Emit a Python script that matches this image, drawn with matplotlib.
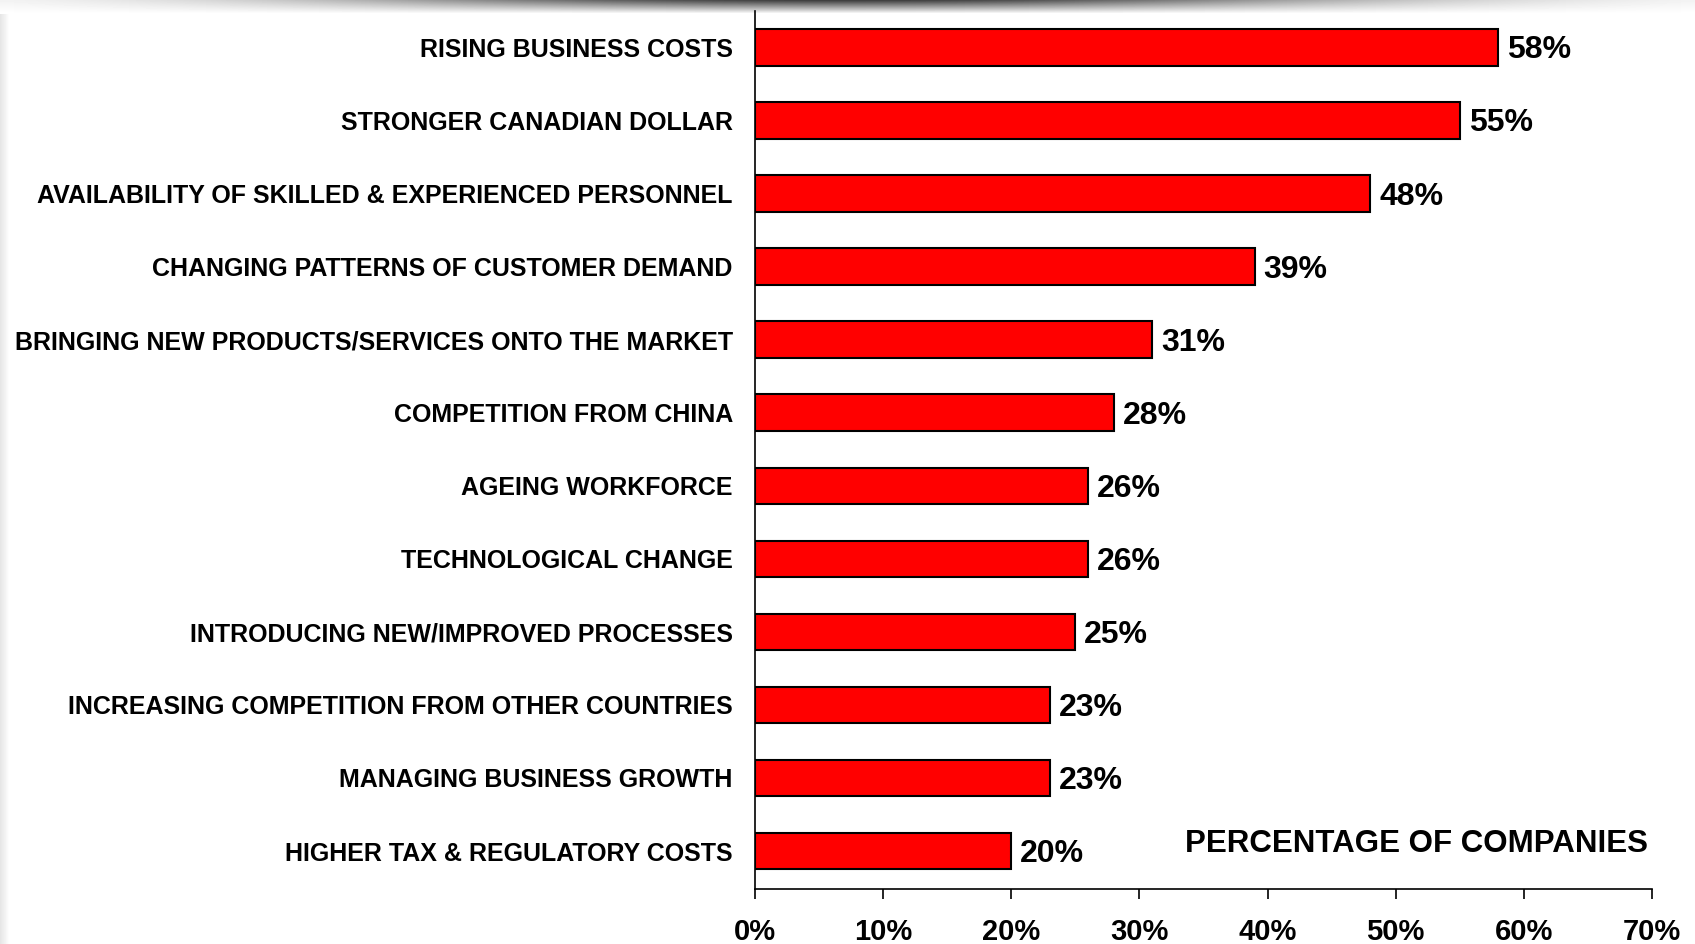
import numpy as np
import matplotlib.pyplot as plt

plt.rcParams['font.family'] = ['Liberation Sans', 'DejaVu Sans']

categories = [
    "RISING BUSINESS COSTS",
    "STRONGER CANADIAN DOLLAR",
    "AVAILABILITY OF SKILLED & EXPERIENCED PERSONNEL",
    "CHANGING PATTERNS OF CUSTOMER DEMAND",
    "BRINGING NEW PRODUCTS/SERVICES ONTO THE MARKET",
    "COMPETITION FROM CHINA",
    "AGEING WORKFORCE",
    "TECHNOLOGICAL CHANGE",
    "INTRODUCING NEW/IMPROVED PROCESSES",
    "INCREASING COMPETITION FROM OTHER COUNTRIES",
    "MANAGING BUSINESS GROWTH",
    "HIGHER TAX & REGULATORY COSTS",
]
values = [58, 55, 48, 39, 31, 28, 26, 26, 25, 23, 23, 20]
x_ticks = [0, 10, 20, 30, 40, 50, 60, 70]
x_tick_labels = [f"{t}%" for t in x_ticks]

W, H = 1695, 944
fig = plt.figure(figsize=(W / 100, H / 100), dpi=100)
fig.patch.set_facecolor("white")

# top shadow band and left edge strip
bg = fig.add_axes([0, 0, 1, 1], zorder=-10)
bg.set_axis_off()
xx = np.linspace(-1, 1, 400)
yy = np.linspace(0, 1, 40)
horiz = np.exp(-(xx / 0.6) ** 2)
vert = 1 - yy
shade = 1 - 0.75 * np.outer(vert, horiz)
img = np.ones((H, W))
band = 14
img[:band, :] = np.array([np.interp(np.linspace(0, 399, W), np.arange(400), row)
                          for row in shade[np.linspace(0, 39, band).astype(int)]])
strip = 10
img[band:, :strip] = np.minimum(img[band:, :strip],
                                np.linspace(0.9, 1.0, strip)[None, :])
bg.imshow(img, cmap="gray", vmin=0, vmax=1, aspect="auto",
          extent=[0, 1, 0, 1], transform=bg.transAxes)

ax = fig.add_axes([755 / W, 1 - 889 / H, (1652 - 755) / W, (889 - 11) / H])
ax.set_facecolor("none")
y = np.arange(len(categories))[::-1]
ax.barh(y, values, height=0.5, color="#ff0000", edgecolor="black", linewidth=1.5)

for yi, v in zip(y, values):
    ax.text(v + 0.7, yi - 0.04, f"{v}%", va="center", ha="left",
            fontsize=23, fontweight="bold")

ax.set_xlim(0, 70)
ax.set_ylim(-0.52, 11.5)
ax.set_yticks(y)
ax.set_yticklabels(categories, fontsize=18, fontweight="bold")
ax.tick_params(axis="y", length=0, pad=16)
ax.set_xticks(x_ticks)
ax.set_xticklabels(x_tick_labels, fontsize=21, fontweight="bold")
ax.tick_params(axis="x", direction="out", length=7, width=1.2, pad=14)

for s in ["top", "right"]:
    ax.spines[s].set_visible(False)
for s in ["left", "bottom"]:
    ax.spines[s].set_linewidth(1.2)

ax.text(0.995, 0.051, "PERCENTAGE OF COMPANIES", transform=ax.transAxes,
        ha="right", va="center", fontsize=22.5, fontweight="bold")

fig.savefig("out.png", dpi=100)
